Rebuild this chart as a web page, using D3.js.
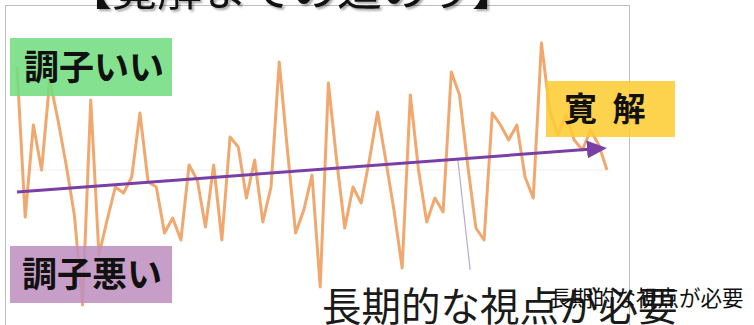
<!DOCTYPE html>
<html>
<head>
<meta charset="utf-8">
<script src="https://cdn.jsdelivr.net/npm/d3@7"></script>
<style>
  body { margin: 0; background: #fff; }
  text { font-family: "Noto Sans CJK JP", "Noto Sans", sans-serif; }
</style>
</head>
<body>
<svg id="chart"></svg>
<script>
// condition score over time (one point per step)
const scores = [103, -47, 45, 0, 90, 50, 5, -45, -135, 70, -85, -50, -17, -23, -7, 57, -12, -17, -63, -48,
  -70, 5, -10, -57, 5, -70, 33, 23, -28, 10, -52, -17, 108, 20, -63, -40, -5, -117, 87, 10,
  -58, -17, -33, 10, 58, 10, -40, -98, 75, 0, -52, -28, -42, 98, 75, 5, -58, -70, 57, 45,
  30, 45, -7, -28, 127, 60, 35, 55, 30, 20, 40, 25, 0]
const trend = [-22, 22]           // start / end of the trend arrow
const leader = [[53.8, 10], [55.3, -100]]
const title = "【寛解までの道のり】"
const labels = { good: "調子いい", bad: "調子悪い", remission: "寛 解" }
const note = "長期的な視点が必要"

const dimensions = { width: 754, height: 325 }

const svg = d3.select("#chart")
  .attr("width", dimensions.width)
  .attr("height", dimensions.height)

const x = d3.scaleLinear().domain([0, scores.length - 1]).range([17, 607])
const y = d3.scaleLinear().domain([-140, 130]).range([310, 40])

// slide frame
svg.append("rect")
  .attr("x", 5.5).attr("y", 5.5)
  .attr("width", 624).attr("height", 340)
  .attr("fill", "none")
  .attr("stroke", "#bdbdbd")

// title, mostly cut off at the top
svg.append("text")
  .attr("x", 292).attr("y", 6)
  .attr("text-anchor", "middle")
  .attr("font-size", 45)
  .attr("fill", "#111")
  .style("filter", "drop-shadow(2px 2px 1px rgba(0,0,0,0.35))")
  .text(title)

// faint zero line
svg.append("line")
  .attr("x1", x(0)).attr("x2", x(scores.length - 1))
  .attr("y1", y(0)).attr("y2", y(0))
  .attr("stroke", "#eeeeee")
  .attr("stroke-width", 1)

svg.append("path")
  .datum(scores)
  .attr("d", d3.line()
    .x(function (d, i) { return x(i) })
    .y(function (d) { return y(d) })
  )
  .attr("fill", "none")
  .attr("stroke", "#ef9f5e")
  .attr("stroke-width", 3)
  .attr("stroke-linejoin", "round")
  .attr("opacity", 0.9)

// leader line
svg.append("line")
  .attr("x1", x(leader[0][0])).attr("y1", y(leader[0][1]))
  .attr("x2", x(leader[1][0])).attr("y2", y(leader[1][1]))
  .attr("stroke", "#b8a8d6")
  .attr("stroke-width", 1.2)

// trend arrow
svg.append("defs").append("marker")
  .attr("id", "head")
  .attr("markerUnits", "userSpaceOnUse")
  .attr("viewBox", "0 0 20 18")
  .attr("refX", 2).attr("refY", 9)
  .attr("markerWidth", 20).attr("markerHeight", 18)
  .attr("orient", "auto")
  .append("path")
  .attr("d", "M0,0 L20,9 L0,18 Z")
  .attr("fill", "#7a3fa6")

svg.append("line")
  .attr("x1", x(0)).attr("y1", y(trend[0]))
  .attr("x2", x(scores.length - 1) - 18).attr("y2", y(trend[1]) + 1.3)
  .attr("stroke", "#7a3fa6")
  .attr("stroke-width", 3)
  .attr("marker-end", "url(#head)")

// label boxes
const boxes = [
  { x: 10, y: 38, w: 162, h: 58, fill: "#72dc7e", text: labels.good, tx: 24, size: 35, sp: 0 },
  { x: 10, y: 246, w: 162, h: 57, fill: "#bf90bf", text: labels.bad, tx: 22, size: 35, sp: 0 },
  { x: 546, y: 81, w: 129, h: 56, fill: "#fdcb33", text: labels.remission, tx: 564, size: 33, sp: 4 }
]

boxes.forEach(function (b) {
  svg.append("rect")
    .attr("x", b.x).attr("y", b.y)
    .attr("width", b.w).attr("height", b.h)
    .attr("fill", b.fill)
    .attr("opacity", 0.87)
  svg.append("text")
    .attr("x", b.tx).attr("y", b.y + b.h / 2 + b.size * 0.36)
    .attr("font-size", b.size)
    .attr("font-weight", "bold")
    .attr("letter-spacing", b.sp)
    .attr("fill", "#111")
    .text(b.text)
})

// note, big and small copies overlapping
svg.append("text")
  .attr("x", 322).attr("y", 321)
  .attr("font-size", 39.5)
  .attr("fill", "#1a1a1a")
  .text(note)

svg.append("text")
  .attr("x", 550).attr("y", 306)
  .attr("font-size", 21.5)
  .attr("fill", "#111")
  .text(note)
</script>
</body>
</html>
